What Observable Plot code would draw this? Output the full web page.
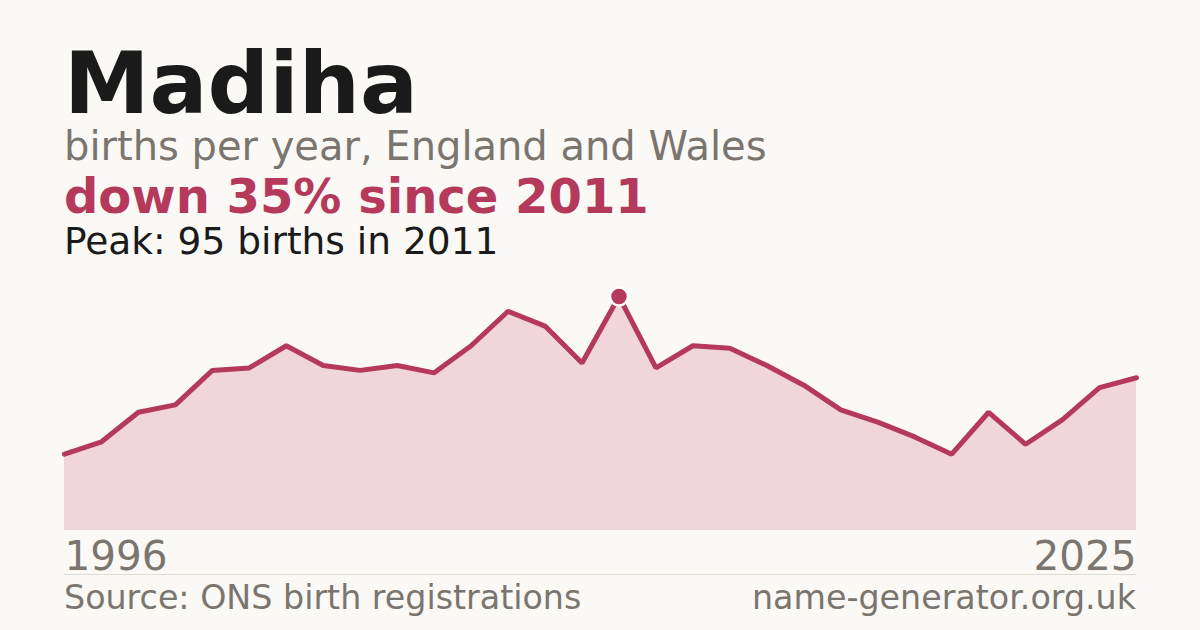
<!DOCTYPE html>
<html>
<head>
<meta charset="utf-8">
<script src="https://cdn.jsdelivr.net/npm/d3@7"></script>
<script src="https://cdn.jsdelivr.net/npm/@observablehq/plot@0.6"></script>
<style>
  html, body { margin: 0; padding: 0; background: #faf9f5; }
  body { width: 1200px; height: 630px; position: relative; overflow: hidden; font-family: "DejaVu Sans", sans-serif; }
  .t { position: absolute; left: 64px; white-space: nowrap; line-height: 1; }
  #title { top: 49px; font-size: 86px; line-height: 0.8; font-weight: bold; color: #1a1a1a; }
  #sub { top: 126px; font-size: 40px; color: #7a756e; }
  #change { top: 172px; font-size: 48px; font-weight: bold; color: #b5395a; }
  #peak { top: 223px; font-size: 37.5px; color: #1a1a1a; }
  #chart { position: absolute; left: 0; top: 270px; }
  #rule { position: absolute; left: 64px; width: 1072px; top: 574px; height: 1px; background: #dedbd4; }
  #source { top: 581px; font-size: 33.3px; color: #7a756e; }
  #site { top: 581px; left: auto; right: 64px; font-size: 33.3px; color: #7a756e; }
</style>
</head>
<body>
<div class="t" id="title">Madiha</div>
<div class="t" id="sub">births per year, England and Wales</div>
<div class="t" id="change">down 35% since 2011</div>
<div class="t" id="peak">Peak: 95 births in 2011</div>
<div id="chart"></div>
<div id="rule"></div>
<div class="t" id="source">Source: ONS birth registrations</div>
<div class="t" id="site">name-generator.org.uk</div>
<script>
const years = [1996,1997,1998,1999,2000,2001,2002,2003,2004,2005,2006,2007,2008,2009,2010,2011,2012,2013,2014,2015,2016,2017,2018,2019,2020,2021,2022,2023,2024,2025];
const births = [31,36,48,51,65,66,75,67,65,67,64,75,89,83,68,95,66,75,74,67,59,49,44,38,31,48,35,45,58,62];
const peakYear = 2011;
const axisLabels = [1996, 2025];

const data = years.map((y, i) => ({year: y, births: births[i]}));
const peak = data.filter(d => d.year === peakYear);
const firstLast = axisLabels.map((y, i) => ({year: y, anchor: i === 0 ? "start" : "end"}));

const lineColor = "#b5395a";
const chart = Plot.plot({
  width: 1200,
  height: 320,
  marginLeft: 64,
  marginRight: 64,
  marginTop: 26,
  marginBottom: 60,
  x: {domain: [1996, 2025], axis: null},
  y: {domain: [0, 95], axis: null},
  style: {background: "transparent", fontFamily: "DejaVu Sans, sans-serif", overflow: "visible"},
  marks: [
    Plot.areaY(data, {x: "year", y: "births", fill: "#f0d5da"}),
    Plot.lineY(data, {x: "year", y: "births", stroke: lineColor, strokeWidth: 5, strokeLinejoin: "miter"}),
    Plot.dot(peak, {x: "year", y: "births", r: 9, fill: lineColor, stroke: "white", strokeWidth: 2.5}),
    Plot.text(firstLast.filter(d => d.anchor === "start"), {x: "year", y: () => 0, text: d => String(d.year), textAnchor: "start", lineAnchor: "top", dy: 11, fontSize: 40.5, fill: "#7a756e"}),
    Plot.text(firstLast.filter(d => d.anchor === "end"), {x: "year", y: () => 0, text: d => String(d.year), textAnchor: "end", lineAnchor: "top", dy: 11, fontSize: 40.5, fill: "#7a756e"})
  ]
});
document.getElementById("chart").appendChild(chart);
</script>
</body>
</html>
